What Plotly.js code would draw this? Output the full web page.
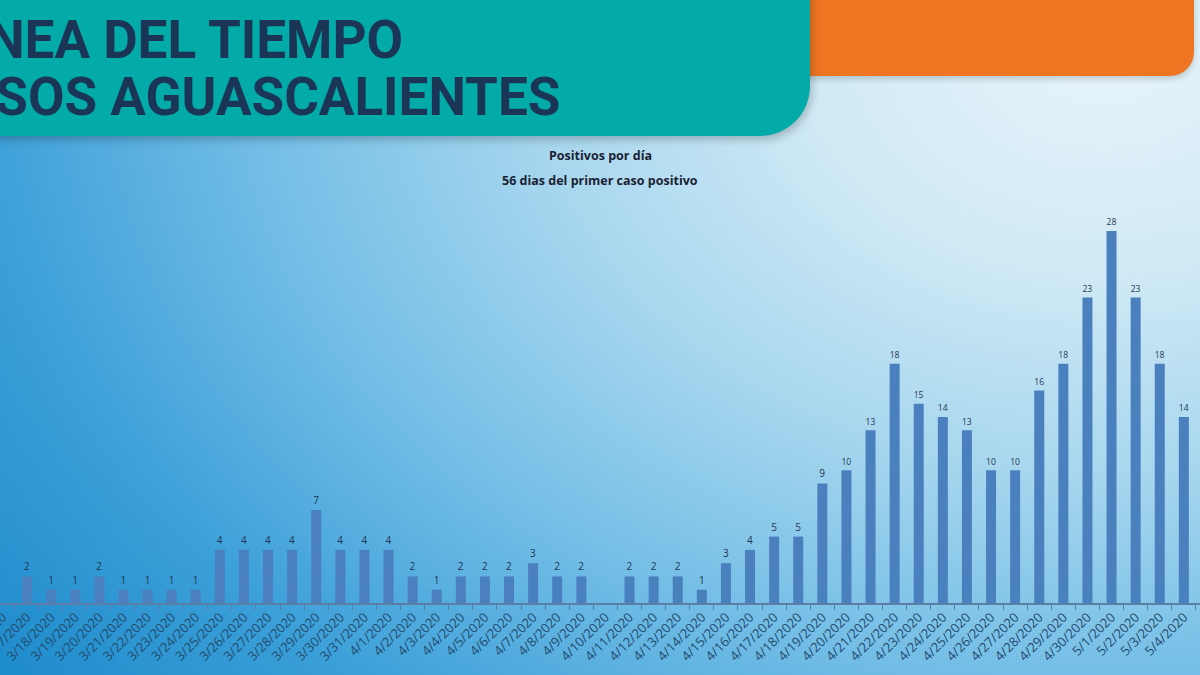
<!DOCTYPE html>
<html>
<head>
<meta charset="utf-8">
<script src="https://cdn.plot.ly/plotly-3.0.1.min.js"></script>
<style>
  html, body { margin: 0; padding: 0; }
  body {
    width: 1200px; height: 675px; overflow: hidden; position: relative;
    background:
      radial-gradient(ellipse 115% 150% at 92% 8%, #e8f4fa 0%, #cfe9f5 22%, #a6d6ee 42%, #72bde6 62%, #3b9fd8 82%, #1f8ccc 100%);
  }
  #orange {
    position: absolute; left: 700px; top: -30px; width: 494px; height: 106px;
    background: #ee7623; border-bottom-right-radius: 24px;
    box-shadow: 0 3px 6px rgba(0,0,0,0.18);
  }
  #teal {
    position: absolute; left: -40px; top: -40px; width: 850px; height: 176px;
    background: #02aaa8; border-bottom-right-radius: 50px;
    box-shadow: 2px 4px 8px rgba(0,0,0,0.22);
  }
  #chart { position: absolute; left: 0; top: 0; width: 1200px; height: 675px; }
</style>
</head>
<body>
<div id="orange"></div>
<div id="teal"></div>
<div id="chart"></div>
<script>
// Casos positivos por día (Aguascalientes)
const dates = [
  "3/16/2020", "3/17/2020", "3/18/2020", "3/19/2020", "3/20/2020", "3/21/2020", "3/22/2020",
  "3/23/2020", "3/24/2020", "3/25/2020", "3/26/2020", "3/27/2020", "3/28/2020", "3/29/2020",
  "3/30/2020", "3/31/2020", "4/1/2020", "4/2/2020", "4/3/2020", "4/4/2020", "4/5/2020",
  "4/6/2020", "4/7/2020", "4/8/2020", "4/9/2020", "4/10/2020", "4/11/2020", "4/12/2020",
  "4/13/2020", "4/14/2020", "4/15/2020", "4/16/2020", "4/17/2020", "4/18/2020", "4/19/2020",
  "4/20/2020", "4/21/2020", "4/22/2020", "4/23/2020", "4/24/2020", "4/25/2020", "4/26/2020",
  "4/27/2020", "4/28/2020", "4/29/2020", "4/30/2020", "5/1/2020", "5/2/2020", "5/3/2020",
  "5/4/2020", "5/5/2020"
];
const positivos = [
  null, 2, 1, 1, 2, 1, 1,
  1, 1, 4, 4, 4, 4, 7,
  4, 4, 4, 2, 1, 2, 2,
  2, 3, 2, 2, 0, 2, 2,
  2, 1, 3, 4, 5, 5, 9,
  10, 13, 18, 15, 14, 13, 10,
  10, 16, 18, 23, 28, 23, 18,
  14, null
];

const titleLines = ["LÍNEA DEL TIEMPO", "CASOS AGUASCALIENTES"];
const subtitleLines = ["Positivos por día", "56 dias del primer caso positivo"];

const labels = positivos.map(v => (v ? String(v) : ''));

const trace = {
  x: dates, y: positivos,
  type: 'bar',
  marker: { color: '#4b80bf' },
  text: labels, textposition: 'outside', cliponaxis: false,
  textfont: { family: 'Open Sans, sans-serif', size: 10, color: '#1f3552' },
  hoverinfo: 'x+y'
};

const layout = {
  width: 1200, height: 675,
  paper_bgcolor: 'rgba(0,0,0,0)',
  plot_bgcolor: 'rgba(0,0,0,0)',
  margin: { t: 138, b: 72, l: 0, r: 0 },
  bargap: 0.585,
  showlegend: false,
  xaxis: {
    type: 'category', range: [-0.12, 49.67], fixedrange: true,
    showgrid: false, zeroline: false,
    showline: true, linecolor: '#5a7ea6', linewidth: 1.5,
    ticks: 'outside', tickson: 'boundaries', ticklen: 5, tickcolor: '#5a7ea6', tickwidth: 1,
    tickangle: -45,
    tickfont: { family: 'Open Sans, sans-serif', size: 13, color: '#234b6c' }
  },
  yaxis: { range: [0, 35], visible: false, fixedrange: true },
  annotations: [
    { xref: 'paper', yref: 'paper', x: 0.3375, y: 1.21, xanchor: 'right', yanchor: 'middle',
      text: '<b>' + titleLines[0] + '</b>', showarrow: false,
      font: { family: 'Roboto, sans-serif', size: 53, color: '#1b3557' } },
    { xref: 'paper', yref: 'paper', x: 0.4683, y: 1.088, xanchor: 'right', yanchor: 'middle',
      text: '<b>' + titleLines[1] + '</b>', showarrow: false,
      font: { family: 'Roboto, sans-serif', size: 53, color: '#1b3557' } },
    { xref: 'paper', yref: 'paper', x: 0.5, y: 0.963, xanchor: 'center', yanchor: 'middle',
      text: '<b>' + subtitleLines[0] + '</b>', showarrow: false,
      font: { family: 'Open Sans, sans-serif', size: 12.5, color: '#1a2232' } },
    { xref: 'paper', yref: 'paper', x: 0.5, y: 0.909, xanchor: 'center', yanchor: 'middle',
      text: '<b>' + subtitleLines[1] + '</b>', showarrow: false,
      font: { family: 'Open Sans, sans-serif', size: 12.5, color: '#1a2232' } }
  ]
};

Plotly.newPlot('chart', [trace], layout, { displayModeBar: false, staticPlot: true });
</script>
</body>
</html>
